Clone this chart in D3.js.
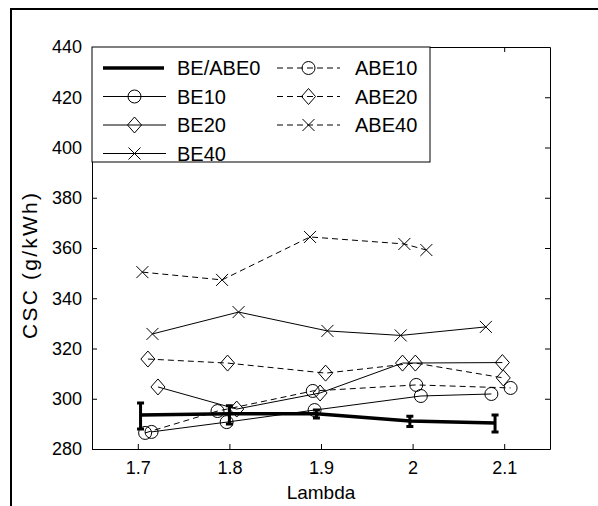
<html>
<script src='https://d3js.org/d3.v7.min.js'></script>
<style>
body {margin: 0; background: white;}
text {font-family: "Liberation Sans", Arial, sans-serif; fill: black;}
</style>
<body onload='init()'>
<svg width=598 height=506></svg>
<script>
// lambda tick values / y ticks
var xTicks = [1.7, 1.8, 1.9, 2.0, 2.1];
var yTicks = [280, 300, 320, 340, 360, 380, 400, 420, 440];

// BE/ABE0 with error bars
var lamBE0 = [1.703, 1.800, 1.895, 1.997, 2.090];
var cscBE0 = [293.5, 294.0, 294.0, 291.1, 290.3];
var loBE0  = [288.0, 290.0, 292.3, 289.0, 286.8];
var hiBE0  = [298.3, 297.2, 295.5, 293.0, 293.5];

var lamBE10 = [1.715, 1.797, 1.893, 2.009, 2.086];
var cscBE10 = [286.8, 290.7, 295.5, 301.1, 301.9];
var lamBE20 = [1.722, 1.808, 1.899, 1.989, 2.098];
var cscBE20 = [304.7, 295.9, 302.3, 314.2, 314.4];
var lamBE40 = [1.716, 1.810, 1.907, 1.987, 2.080];
var cscBE40 = [325.8, 334.5, 327.0, 325.2, 328.6];

var lamABE10 = [1.708, 1.787, 1.891, 2.004, 2.107];
var cscABE10 = [286.4, 295.1, 303.1, 305.5, 304.3];
var lamABE20 = [1.711, 1.798, 1.905, 2.003, 2.099];
var cscABE20 = [315.8, 314.2, 310.2, 314.2, 308.3];
var lamABE40 = [1.705, 1.792, 1.888, 1.991, 2.015];
var cscABE40 = [350.4, 347.3, 364.4, 361.6, 359.2];

function init() {
var svg = d3.select("svg");
var left = 92, right = 550, top = 47, bottom = 449;

var x = d3.scaleLinear().domain([1.65, 2.15]).range([left, right]);
var y = d3.scaleLinear().domain([280, 440]).range([bottom, top]);

// outer frame
svg.append("rect").attr("x", 11).attr("y", 9).attr("width", 620).attr("height", 520)
   .attr("fill", "white").attr("stroke", "black").attr("stroke-width", 2);

var series = [
  {name: "BE10", lam: lamBE10, v: cscBE10, dash: null, mark: "circle"},
  {name: "BE20", lam: lamBE20, v: cscBE20, dash: null, mark: "diamond"},
  {name: "BE40", lam: lamBE40, v: cscBE40, dash: null, mark: "cross"},
  {name: "ABE10", lam: lamABE10, v: cscABE10, dash: "6,4", mark: "circle"},
  {name: "ABE20", lam: lamABE20, v: cscABE20, dash: "6,4", mark: "diamond"},
  {name: "ABE40", lam: lamABE40, v: cscABE40, dash: "6,4", mark: "cross"}
];

function drawMark(g, type, cx, cy) {
  if (type == "circle") {
    g.append("circle").attr("cx", cx).attr("cy", cy).attr("r", 6.5)
     .attr("fill", "none").attr("stroke", "black").attr("stroke-width", 1);
  } else if (type == "diamond") {
    g.append("path").attr("d", "M" + cx + "," + (cy - 8) + "L" + (cx + 7) + "," + cy + "L" + cx + "," + (cy + 8) + "L" + (cx - 7) + "," + cy + "Z")
     .attr("fill", "none").attr("stroke", "black").attr("stroke-width", 1);
  } else {
    g.append("path").attr("d", "M" + (cx - 6) + "," + (cy - 6) + "L" + (cx + 6) + "," + (cy + 6) + "M" + (cx - 6) + "," + (cy + 6) + "L" + (cx + 6) + "," + (cy - 6))
     .attr("stroke", "black").attr("stroke-width", 1);
  }
}

var line = d3.line().x(function(d) {return x(d[0]);}).y(function(d) {return y(d[1]);});
var plot = svg.append("g");

// BE/ABE0 thick line with error bars
var pts0 = d3.zip(lamBE0, cscBE0);
plot.append("path").attr("d", line(pts0)).attr("fill", "none")
    .attr("stroke", "black").attr("stroke-width", 3.5);
lamBE0.forEach(function(l, i) {
  var cx = x(l);
  plot.append("path")
      .attr("d", "M" + cx + "," + y(loBE0[i]) + "V" + y(hiBE0[i]) +
                 "M" + (cx - 3.5) + "," + y(loBE0[i]) + "H" + (cx + 3.5) +
                 "M" + (cx - 3.5) + "," + y(hiBE0[i]) + "H" + (cx + 3.5))
      .attr("stroke", "black").attr("stroke-width", 3).attr("fill", "none");
});

series.forEach(function(s) {
  var pts = d3.zip(s.lam, s.v);
  plot.append("path").attr("d", line(pts)).attr("fill", "none")
      .attr("stroke", "black").attr("stroke-width", 1)
      .attr("stroke-dasharray", s.dash);
  pts.forEach(function(p) { drawMark(plot, s.mark, x(p[0]), y(p[1])); });
});

// axes
var fmt = d3.format("~g");
svg.append("g").attr("transform", "translate(0," + bottom + ")")
   .call(d3.axisBottom(x).tickValues(xTicks).tickFormat(fmt).tickSize(-5).tickSizeOuter(0).tickPadding(12))
   .call(function(g) { g.selectAll("text").style("font-size", "18px"); });
svg.append("g").attr("transform", "translate(0," + top + ")")
   .call(d3.axisTop(x).tickValues(xTicks).tickFormat("").tickSize(-5).tickSizeOuter(0));
svg.append("g").attr("transform", "translate(" + left + ",0)")
   .call(d3.axisLeft(y).tickValues(yTicks).tickSize(-5).tickSizeOuter(0).tickPadding(10))
   .call(function(g) { g.selectAll("text").style("font-size", "18px"); });
svg.append("g").attr("transform", "translate(" + right + ",0)")
   .call(d3.axisRight(y).tickValues(yTicks).tickFormat("").tickSize(-5).tickSizeOuter(0));
svg.selectAll(".domain").attr("stroke", "black");
svg.selectAll(".tick line").attr("stroke", "black");

svg.append("text").attr("x", 321).attr("y", 499).attr("text-anchor", "middle")
   .style("font-size", "19px").text("Lambda");
svg.append("text").attr("transform", "translate(37,266) rotate(-90)")
   .attr("text-anchor", "middle").style("font-size", "21px")
   .attr("textLength", 146).attr("lengthAdjust", "spacing").text("CSC (g/kWh)");

// legend
var lg = svg.append("g");
lg.append("rect").attr("x", left).attr("y", top).attr("width", 338).attr("height", 115)
  .attr("fill", "white").attr("stroke", "black").attr("stroke-width", 1);
var rowY = function(i) { return 68 + i * 28.5; };
lg.append("line").attr("x1", 103).attr("x2", 164).attr("y1", rowY(0)).attr("y2", rowY(0))
  .attr("stroke", "black").attr("stroke-width", 3.5);
lg.append("text").attr("x", 177).attr("y", rowY(0)).attr("dy", "0.36em").style("font-size", "20px").text("BE/ABE0");
series.forEach(function(s, i) {
  var col = i < 3 ? 0 : 1;
  var row = col == 0 ? i + 1 : i - 3;
  var x0 = col == 0 ? 103 : 277, tx = col == 0 ? 177 : 355, yy = rowY(row);
  lg.append("line").attr("x1", x0).attr("x2", x0 + 63).attr("y1", yy).attr("y2", yy)
    .attr("stroke", "black").attr("stroke-width", 1).attr("stroke-dasharray", s.dash);
  drawMark(lg, s.mark, x0 + 31.5, yy);
  lg.append("text").attr("x", tx).attr("y", yy).attr("dy", "0.36em").style("font-size", "20px").text(s.name);
});
}
</script>
</body>
</html>
